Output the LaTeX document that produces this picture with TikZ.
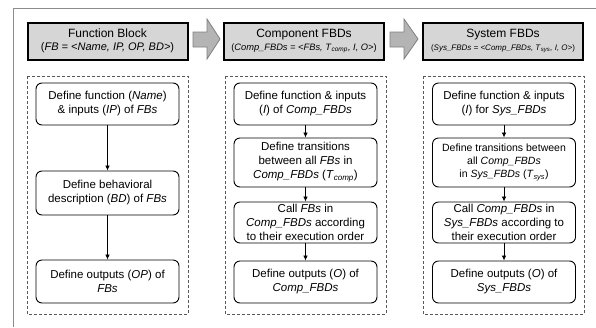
\documentclass[tikz,border=0pt]{standalone}
\usepackage{fontspec}
\setmainfont{Liberation Sans}
\usepackage[]{tikz}
\usepackage[dvipsnames]{xcolor}
\usetikzlibrary{arrows.meta}
\usetikzlibrary{positioning}
\definecolor{headgray}{HTML}{D6D6D6}
\definecolor{arrgray}{HTML}{B4B4B4}
\definecolor{framegray}{HTML}{8C8C8C}
\tikzset{flow/.style = {-{Latex[length=5pt,width=4.5pt]}, line width=0.8pt}}
\tikzset{headbox/.style = {draw, line width=2pt, fill=headgray, minimum width=160pt, minimum height=37pt, align=center, inner sep=0pt}}
\tikzset{procbox/.style = {draw, line width=0.9pt, rounded corners=6pt, fill=white, minimum width=143pt, align=center, inner sep=0pt, font=\fontsize{11.5}{14}\selectfont}}
\tikzset{groupbox/.style = {draw=black!65, dashed, dash pattern=on 3pt off 2pt, line width=0.8pt}}
\tikzset{blockarr/.style = {draw=black!50, fill=arrgray, line width=0.8pt, line join=miter}}
\newcommand{\hdtitle}{\fontsize{12}{14}\selectfont}
\newcommand{\sbt}[1]{\textsubscript{\textit{#1}}}

\begin{document}
\begin{tikzpicture}[x=1pt,y=-1pt]
        \useasboundingbox (0,0) rectangle (596,327);
        \draw [framegray, line width=0.8pt] (13,327) -- (13,8) -- (596,8);
        % headers
        \node [headbox] (fbhead) at (107.5,41) {{\hdtitle Function Block}\\[1pt]{\fontsize{11}{13}\selectfont(\textit{FB = <Name, IP, OP, BD>})}};
        \node [headbox] (comphead) at (304,41) {{\hdtitle Component FBDs}\\[1pt]{\fontsize{9.3}{12}\selectfont(\textit{Comp\_FBDs = <FBs, T}\sbt{comp}\textit{, I, O>})}};
        \node [headbox] (syshead) at (503,41) {{\hdtitle System FBDs}\\[1pt]{\fontsize{8}{11}\selectfont(\textit{Sys\_FBDs = <Comp\_FBDs, T}\sbt{sys}\textit{, I, O>})}};
        \filldraw [blockarr] (193,32) -- (207,32) -- (207,19) -- (220,39) -- (207,59) -- (207,47) -- (193,47) -- cycle;
        \filldraw [blockarr] (390,32) -- (404,32) -- (404,19) -- (418,39) -- (404,59) -- (404,47) -- (390,47) -- cycle;
        % dashed groups
        \draw [groupbox] (27,76) rectangle (188,314);
        \draw [groupbox] (225,76) rectangle (386,314);
        \draw [groupbox] (423,76) rectangle (584,314);
        % function block steps
        \node [procbox, minimum height=42pt] (fb1) at (107.5,104) {Define function (\textit{Name})\\\& inputs (\textit{IP}) of \textit{FBs}};
        \node [procbox, minimum height=44pt] (fb2) at (107.5,193) {Define behavioral\\description (\textit{BD}) of \textit{FBs}};
        \node [procbox, minimum height=43pt] (fb3) at (107.5,281.5) {Define outputs (\textit{OP}) of\\\textit{FBs}};
        \draw [flow] (fb1) -- (fb2);
        \draw [flow] (fb2) -- (fb3);
        % component FBD steps
        \node [procbox, minimum height=42pt] (comp1) at (305.5,104) {Define function \& inputs\\(\textit{I}) of \textit{Comp\_FBDs}};
        \node [procbox, minimum height=49pt] (comp2) at (305.5,162.5) {Define transitions\\between all \textit{FBs} in\\\textit{Comp\_FBDs} (\textit{T}\sbt{comp})};
        \node [procbox, minimum height=41pt] (comp3) at (305.5,222.5) {Call \textit{FBs} in\\\textit{Comp\_FBDs} according\\to their execution order};
        \node [procbox, minimum height=42pt] (comp4) at (305.5,282) {Define outputs (\textit{O}) of\\\textit{Comp\_FBDs}};
        \draw [flow] (comp1) -- (comp2);
        \draw [flow] (comp2) -- (comp3);
        \draw [flow] (comp3) -- (comp4);
        % system FBD steps
        \node [procbox, minimum height=42pt] (sys1) at (504,104) {Define function \& inputs\\(\textit{I}) for \textit{Sys\_FBDs}};
        \node [procbox, minimum height=49pt, font=\fontsize{10.5}{13}\selectfont] (sys2) at (504,162.5) {Define transitions between\\all \textit{Comp\_FBDs}\\in \textit{Sys\_FBDs} (\textit{T}\sbt{sys})};
        \node [procbox, minimum height=41pt] (sys3) at (504,222.5) {Call \textit{Comp\_FBDs} in\\\textit{Sys\_FBDs} according to\\their execution order};
        \node [procbox, minimum height=42pt] (sys4) at (504,282) {Define outputs (\textit{O}) of\\\textit{Sys\_FBDs}};
        \draw [flow] (sys1) -- (sys2);
        \draw [flow] (sys2) -- (sys3);
        \draw [flow] (sys3) -- (sys4);
    \end{tikzpicture}
\end{document}
